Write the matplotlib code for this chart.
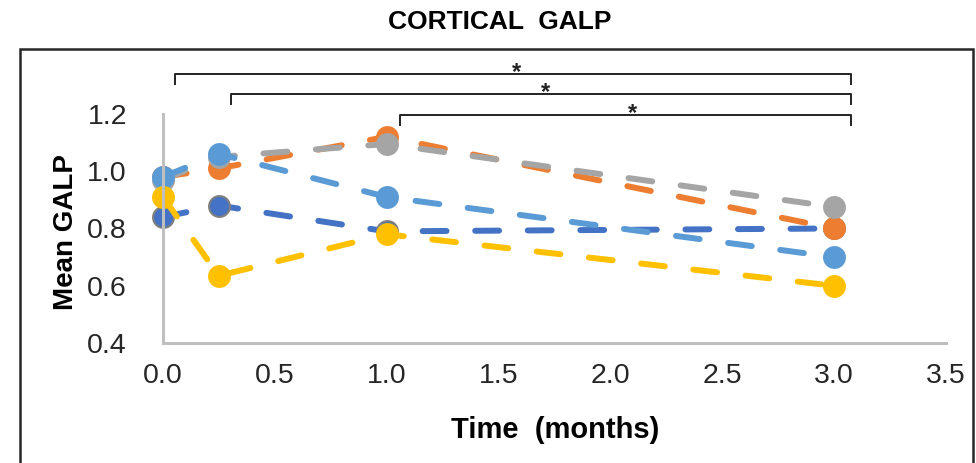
import numpy as np
import matplotlib
matplotlib.use("Agg")
import matplotlib.pyplot as plt
from matplotlib.patches import Rectangle

plt.rcParams['font.family'] = ['Liberation Sans', 'DejaVu Sans']

# data
months = [0.0, 0.25, 1.0, 3.0]
dark_blue = [0.84, 0.88, 0.79, 0.80]
orange = [0.98, 1.01, 1.12, 0.80]
gray = [0.97, 1.05, 1.095, 0.875]
light_blue = [0.98, 1.06, 0.91, 0.70]
yellow = [0.91, 0.635, 0.78, 0.60]

series = [
    (dark_blue, '#4472C4', '#7F7F7F'),
    (orange, '#ED7D31', '#ED7D31'),
    (gray, '#A5A5A5', '#A5A5A5'),
    (light_blue, '#5B9BD5', '#5B9BD5'),
    (yellow, '#FFC000', '#FFC000'),
]

# significance brackets: (start, end, height, star x)
brackets = [(0.054, 3.075, 1.34, 1.58),
            (0.304, 3.075, 1.27, 1.71),
            (1.06, 3.075, 1.195, 2.10)]

fig = plt.figure(figsize=(9.76, 4.63), dpi=100)
ax = fig.add_axes([0.167, 0.259, 0.802, 0.495])

for vals, col, edge in series:
    line, = ax.plot(months, vals, color=col, lw=4.3, marker='o', markersize=15,
                    markerfacecolor=col, markeredgecolor=edge, markeredgewidth=1.5,
                    clip_on=False)
    line.set_dashes([4.0, 4.8])
    line.set_dash_capstyle('round')

for x0, x1, y, xs in brackets:
    ax.plot([x0, x0, x1, x1], [y - 0.035, y, y, y - 0.035], color='#222222',
            lw=1.4, clip_on=False)
    ax.text(xs, y + 0.005, '*', ha='center', va='center', fontsize=17,
            color='#222222', fontweight='bold')

ax.set_xlim(0, 3.5)
ax.set_ylim(0.4, 1.2)
ax.set_xticks(np.arange(0, 3.51, 0.5))
ax.set_yticks([0.4, 0.6, 0.8, 1.0, 1.2])
ax.xaxis.set_major_formatter(matplotlib.ticker.FormatStrFormatter('%.1f'))
ax.yaxis.set_major_formatter(matplotlib.ticker.FormatStrFormatter('%.1f'))
ax.tick_params(length=0, labelsize=20.5, colors='#262626')
ax.tick_params(axis='y', pad=26)
ax.tick_params(axis='x', pad=14)
for s in ['top', 'right']:
    ax.spines[s].set_visible(False)
for s in ['left', 'bottom']:
    ax.spines[s].set_color('#BFBFBF')
    ax.spines[s].set_linewidth(2.2)

fig.text(0.512, 0.952, 'CORTICAL  GALP', ha='center', va='center',
         fontsize=19, fontweight='bold')
fig.text(0.569, 0.071, 'Time  (months)', ha='center', va='center',
         fontsize=21, fontweight='bold')
fig.text(0.068, 0.50, 'Mean GALP', ha='center', va='center', rotation=90,
         fontsize=20, fontweight='bold')

# outer chart frame
fig.patches.append(Rectangle((20 / 976, -0.05), 953 / 976, 1 - 49 / 463 + 0.05,
                             transform=fig.transFigure, fill=False,
                             edgecolor='#262626', lw=1.8))

fig.savefig('out.png', dpi=100)
